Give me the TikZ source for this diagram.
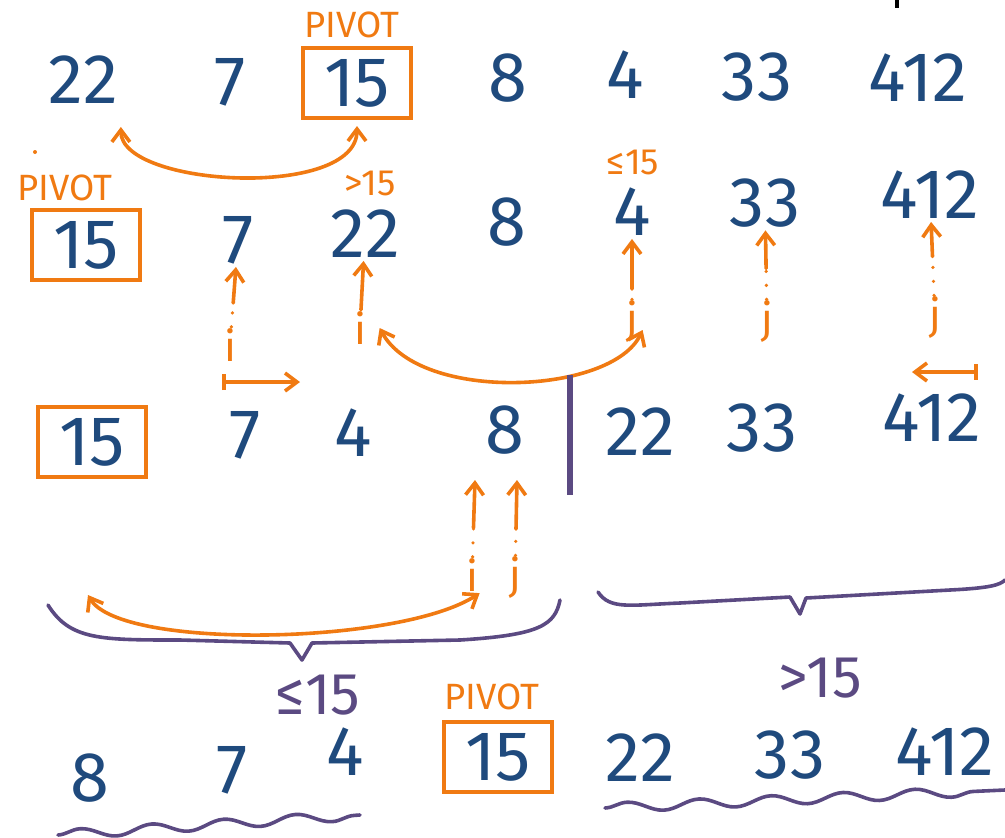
\documentclass[tikz,border=0pt]{standalone}
\usepackage{fontspec}
\setmainfont{Fira Sans}
\usetikzlibrary{arrows.meta,calc,decorations.pathmorphing}
\definecolor{numblue}{HTML}{1F4A7D}
\definecolor{penorange}{HTML}{F07A12}
\definecolor{penpurple}{HTML}{5B4A82}
\begin{document}
\begin{tikzpicture}[x=0.25mm,y=-0.25mm,
  num/.style={text=numblue, font=\fontsize{50}{50}\selectfont, inner sep=2pt},
  pivotbox/.style={num, draw=penorange, line width=1mm, minimum width=27mm, minimum height=17.5mm, inner sep=0pt},
  tag/.style={text=penorange, font=\fontsize{26}{26}\selectfont, inner sep=1pt},
  ptrlbl/.style={text=penorange, font=\fontsize{30}{30}\selectfont, inner sep=1pt},
  rangelbl/.style={text=penpurple, font=\fontsize{42}{42}\selectfont, inner sep=1pt},
  ptr/.style={draw=penorange, line width=0.9mm, line cap=round, -{Straight Barb[length=3mm,width=4.5mm]}},
  swap/.style={draw=penorange, line width=0.9mm, line cap=round, {Straight Barb[length=3mm,width=4.5mm]}-{Straight Barb[length=3mm,width=4.5mm]}},
  dots/.style={draw=penorange, line width=0.9mm, line cap=round, dash pattern=on 0pt off 3.5mm},
  brace/.style={draw=penpurple, line width=0.9mm, line cap=round, line join=round},
  wavy/.style={brace, decorate, decoration={snake, amplitude=1.2mm, segment length=18mm}},
  divider/.style={draw=penpurple, line width=1.5mm}]
\useasboundingbox (0,0) rectangle (1005,837);

% first row
\node[num] (a22) at (83,80) {22};
\node[num] (a7) at (230,82) {7};
\node[pivotbox] (a15) at (357,83) {15};
\node[num] (a8) at (508,78) {8};
\node[num] (a4) at (625,75) {4};
\node[num] (a33) at (757,77) {33};
\node[num] (a412) at (918,78) {412};
\node[tag] (apiv) at (352,25) {PIVOT};
\draw[swap, shorten <=5mm, shorten >=1.5mm] (a22.south east) .. controls +(0,80) and +(0,80) .. (a15.south);
\draw[line width=0.8mm] (897,0) -- (897,8);
\fill[penorange] (35,152) circle (0.5mm);

% second row
\node[tag] (bpiv) at (65,188) {PIVOT};
\node[pivotbox] (b15) at (86,245) {15};
\node[num] (b7) at (238,240) {7};
\node[num] (b22) at (365,234) {22};
\node[tag] (bgt) at (370,183) {>15};
\node[num] (b8) at (507,222) {8};
\node[num] (b4) at (632,212) {4};
\node[tag] (ble) at (633,162) {≤15};
\node[num] (b33) at (765,203) {33};
\node[num] (b412) at (930,195) {412};

\node[ptrlbl] (bi1) at (230,345) {i};
\node[ptrlbl] (bi2) at (360,328) {i};
\node[ptrlbl] (bj1) at (632,322) {j};
\node[ptrlbl] (bj2) at (767,322) {j};
\node[ptrlbl] (bj3) at (935,318) {j};

\draw[dots] (bi1) -- ($(bi1)!0.4!(b7)$);
\draw[ptr] ($(bi1)!0.4!(b7)$) -- (b7);
\draw[ptr] (bi2) -- (b22);
\draw[dots] (bj1) -- ($(bj1)!0.3!(b4)$);
\draw[ptr] ($(bj1)!0.3!(b4)$) -- (b4);
\draw[dots] (bj2) -- ($(bj2)!0.45!(b33)$);
\draw[ptr] ($(bj2)!0.45!(b33)$) -- (b33);
\draw[dots] (bj3) -- ($(bj3)!0.5!(b412)$);
\draw[ptr] ($(bj3)!0.5!(b412)$) -- (b412);

\coordinate (bs1) at (222,382);
\coordinate (bs2) at (300,382);
\coordinate (bs3) at (978,372);
\coordinate (bs4) at (912,372);
\draw[ptr, arrows={Bar[width=4mm]-Straight Barb[length=3mm,width=4.5mm]}] (bs1) -- (bs2);
\draw[ptr, arrows={Bar[width=4mm]-Straight Barb[length=3mm,width=4.5mm]}] (bs3) -- (bs4);

\draw[swap] ($(bi2.east)+(12,0)$) .. controls +(40,75) and +(-30,65) .. ($(bj1.east)+(3,8)$);

% third row
\node[pivotbox] (c15) at (92,442) {15};
\node[num] (c7) at (245,435) {7};
\node[num] (c4) at (353,433) {4};
\node[num] (c8) at (505,430) {8};
\draw[divider] (570,375) -- (570,495);
\node[num] (c22) at (640,432) {22};
\node[num] (c33) at (762,428) {33};
\node[num] (c412) at (932,418) {412};

\node[ptrlbl] (ci) at (472,575) {i};
\node[ptrlbl] (cj) at (515,578) {j};
\coordinate (ciTop) at (475,480);
\coordinate (cjTop) at (517,480);
\draw[dots] (ci) -- ($(ci)!0.5!(ciTop)$);
\draw[ptr] ($(ci)!0.5!(ciTop)$) -- (ciTop);
\draw[dots] (cj) -- ($(cj)!0.5!(cjTop)$);
\draw[ptr] ($(cj)!0.5!(cjTop)$) -- (cjTop);

\coordinate (cl) at (88,595);
\draw[swap] (cl) .. controls (120,650) and (400,645) .. (ci.south east);

% braces
\draw[brace] (48,605) .. controls (70,640) and (100,640) .. (180,640) -- (290,643) -- (302,660) -- (312,643) -- (460,640) .. controls (540,635) and (555,625) .. (560,600);
\draw[brace] (598,592) .. controls (610,610) and (630,605) .. (680,603) -- (790,597) -- (800,614) -- (806,598) -- (950,590) .. controls (990,588) and (1000,585) .. (1005,580);

\node[rangelbl] (gtlbl) at (820,678) {>15};
\node[rangelbl] (lelbl) at (318,695) {≤15};
\node[tag] (dpiv) at (492,697) {PIVOT};

% last row
\node[num] (d8) at (90,778) {8};
\node[num] (d7) at (232,770) {7};
\node[num] (d4) at (345,752) {4};
\node[pivotbox] (d15) at (498,757) {15};
\node[num] (d22) at (640,758) {22};
\node[num] (d33) at (790,755) {33};
\node[num] (d412) at (945,752) {412};

\draw[wavy] (605,808) -- (1005,790);
\draw[wavy] (58,835) -- (360,815);
\end{tikzpicture}
\end{document}
